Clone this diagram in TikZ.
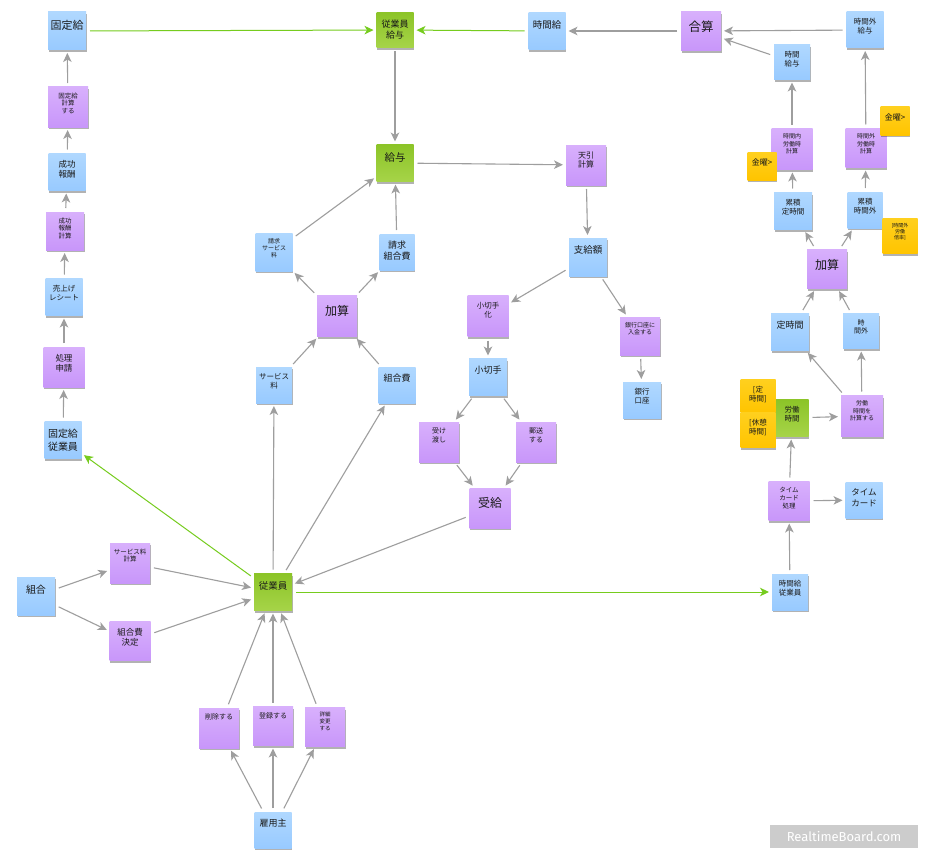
\documentclass[tikz,border=0pt]{standalone}
\usepackage{fontspec}
\setmainfont{Noto Sans CJK JP}
\newfontfamily\wmfont{Fira Sans}
\usetikzlibrary{arrows.meta,shadows}

\definecolor{blueT}{RGB}{176,216,255}
\definecolor{blueB}{RGB}{152,202,255}
\definecolor{purpT}{RGB}{216,176,252}
\definecolor{purpB}{RGB}{200,150,250}
\definecolor{greenT}{RGB}{140,196,40}
\definecolor{greenB}{RGB}{166,212,72}
\definecolor{yelT}{RGB}{255,208,30}
\definecolor{yelB}{RGB}{255,196,0}
\definecolor{arrgray}{RGB}{158,158,158}
\definecolor{arrgreen}{RGB}{118,204,30}
\definecolor{wmgray}{RGB}{204,204,204}

% sticky note content: fixed-size box, text set near the top
\newcommand\nt[3]{\parbox[c][#2pt][t]{#1pt}{\centering\vspace*{\fzv pt}#3\par}}
\def\fzv{5}

\tikzset{
  note/.style={inner sep=0pt, outer sep=0pt, text=black!90,
    drop shadow={shadow xshift=0.6pt, shadow yshift=-2.4pt, opacity=0.3, fill=black}},
  bnote/.style={note, top color=blueT, bottom color=blueB},
  pnote/.style={note, top color=purpT, bottom color=purpB},
  gnote/.style={note, top color=greenT, bottom color=greenB},
  ynote/.style={note, top color=yelT, bottom color=yelB},
  fz/.code={\pgfmathsetmacro\fzb{#1*1.22}%
    \pgfmathsetmacro\fzv{1+0.7*#1}%
    \edef\fzset{\noexpand\tikzset{font=\noexpand\fontsize{#1}{\fzb}\noexpand\selectfont}}\fzset},
  arr/.style={draw=arrgray, line width=1.1pt,
    -{Stealth[length=9pt,width=8.5pt,inset=2.5pt]}, shorten >=3pt, shorten <=4pt},
  garr/.style={arr, draw=arrgreen, line width=1pt}
}

\begin{document}
\begin{tikzpicture}[x=1pt,y=-1pt]
\fill[white] (0,0) rectangle (930,859);
\useasboundingbox (0,0) rectangle (930,859);

% ---------- fixed salary column ----------
\node[bnote,fz=11]  (kyu)      at (67,31)   {\nt{38}{38}{固定給}};
\node[pnote,fz=6.5] (kyuCalc)  at (68,107)  {\nt{40}{40}{固定給\\計算\\する}};
\node[bnote,fz=8.5] (seiko)    at (67,172)  {\nt{37}{37}{成功\\報酬}};
\node[pnote,fz=6.5] (seikoCalc) at (65,231) {\nt{38}{38}{成功\\報酬\\計算}};
\node[bnote,fz=7.5] (receipt)  at (64,297)  {\nt{37}{37}{売上げ\\レシート}};
\node[pnote,fz=8.5] (shinsei)  at (64,367)  {\nt{41}{40}{処理\\申請}};
\node[bnote,fz=10]  (kyuEmp)   at (63,440)  {\nt{37}{37}{固定給\\従業員}};

% ---------- payroll center ----------
\node[gnote,fz=9]    (empPay)  at (395,30)  {\nt{37}{35}{従業員\\給与}};
\node[bnote,fz=9.5]  (hourly)  at (547,31)  {\nt{37}{37}{時間給}};
\node[gnote,fz=10.5] (pay)     at (395,163) {\nt{37}{37}{給与}};
\node[pnote,fz=8]    (deduct)  at (586,165) {\nt{40}{40}{天引\\計算}};

\node[bnote,fz=6]   (billSvc)   at (274,252) {\nt{37}{38}{請求\\サービス\\料}};
\node[bnote,fz=9]   (billUnion) at (397,252) {\nt{35}{36}{請求\\組合費}};
\node[pnote,fz=12]  (addC)      at (337,316) {\nt{40}{41}{加算}};
\node[bnote,fz=7.5] (svc)       at (274,385) {\nt{36}{36}{サービス\\料}};
\node[bnote,fz=9]   (union)     at (397,385) {\nt{37}{36}{組合費}};

\node[bnote,fz=9.5] (payout)  at (588,257) {\nt{38}{38}{支給額}};
\node[pnote,fz=7.5] (chkize)  at (488,316) {\nt{41}{41}{小切手\\化}};
\node[pnote,fz=6]   (bankDep) at (640,336) {\nt{40}{38}{銀行口座に\\入金する}};
\node[bnote,fz=9]   (chk)     at (488,377) {\nt{38}{37}{小切手}};
\node[bnote,fz=7.5] (bank)    at (642,400) {\nt{38}{36}{銀行\\口座}};
\node[pnote,fz=7]   (hand)    at (439,442) {\nt{40}{40}{受け\\渡し}};
\node[pnote,fz=7]   (mail)    at (536,442) {\nt{40}{40}{郵送\\する}};
\node[pnote,fz=12]  (recv)    at (490,508) {\nt{41}{40}{受給}};

% ---------- employee / union ----------
\node[bnote,fz=10]  (unionOrg) at (36,596)  {\nt{38}{38}{組合}};
\node[pnote,fz=6.5] (svcCalc)  at (130,563) {\nt{40}{40}{サービス料\\計算}};
\node[pnote,fz=8.5] (unionFee) at (130,641) {\nt{41}{39}{組合費\\決定}};
\node[gnote,fz=9.5] (emp)      at (273,592) {\nt{38}{37}{従業員}};
\node[pnote,fz=7]   (del)      at (219,728) {\nt{40}{40}{削除する}};
\node[pnote,fz=7]   (reg)      at (273,726) {\nt{40}{39}{登録する}};
\node[pnote,fz=5.5] (mod)      at (325,727) {\nt{40}{39}{詳細\\変更\\する}};
\node[bnote,fz=9]   (employer) at (273,830) {\nt{37}{36}{雇用主}};

% ---------- hourly salary ----------
\node[pnote,fz=12.5] (total)   at (701,31)  {\nt{40}{39}{合算}};
\node[bnote,fz=7.5]  (otPay)   at (865,30)  {\nt{37}{36}{時間外\\給与}};
\node[bnote,fz=7.5]  (hrPay)   at (792,62)  {\nt{36}{35}{時間\\給与}};
\node[pnote,fz=6]    (inCalc)  at (792,149) {\nt{41}{41}{時間内\\労働時\\計算}};
\node[pnote,fz=6]    (otCalc)  at (866,148) {\nt{41}{39}{時間外\\労働時\\計算}};
\node[bnote,fz=7.5]  (accReg)  at (793,211) {\nt{38}{37}{累積\\定時間}};
\node[bnote,fz=7.5]  (accOt)   at (865,210) {\nt{35}{36}{累積\\時間外}};
\node[pnote,fz=12]   (addR)    at (827,269) {\nt{40}{39}{加算}};
\node[bnote,fz=9]    (regT)    at (790,332) {\nt{38}{37}{定時間}};
\node[bnote,fz=7]    (otT)     at (861,331) {\nt{36}{35}{時\\間外}};
\node[gnote,fz=7.5]  (work)    at (792,418) {\nt{33}{37}{労働\\時間}};
\node[pnote,fz=6]    (workCalc) at (862,416) {\nt{42}{41}{労働\\時間を\\計算する}};
\node[pnote,fz=6.5]  (tcProc)  at (789,501) {\nt{41}{39}{タイム\\カード\\処理}};
\node[bnote,fz=8.5]  (tc)      at (864,500) {\nt{37}{36}{タイム\\カード}};
\node[bnote,fz=7.5]  (hrEmp)   at (790,592) {\nt{36}{36}{時間給\\従業員}};

% yellow tags laid over the notes
\node[ynote,fz=8]   (fri1)   at (762,166) {\nt{29}{28}{金曜>}};
\node[ynote,fz=8]   (fri2)   at (895,121) {\nt{29}{28}{金曜>}};
\node[ynote,fz=5]   (otRate) at (900,236) {\nt{35}{35}{[時間外\\労働\\倍率]}};
\node[ynote,fz=7.5] (yReg)   at (758,396) {\nt{35}{33}{[定\\時間]}};
\node[ynote,fz=7.5] (yRest)  at (758,430) {\nt{35}{35}{[休憩\\時間]}};

% ---------- connectors ----------
\draw[arr] (kyuEmp) -- (shinsei);
\draw[arr] (shinsei) -- (receipt);
\draw[arr] (receipt) -- (seikoCalc);
\draw[arr] (seikoCalc) -- (seiko);
\draw[arr] (seiko) -- (kyuCalc);
\draw[arr] (kyuCalc) -- (kyu);

\draw[garr] (kyu) -- (empPay);
\draw[garr] (hourly) -- (empPay);
\draw[garr] (emp) -- (kyuEmp);
\draw[garr] (emp) -- (hrEmp);

\draw[arr] (total) -- (hourly);
\draw[arr] (empPay) -- (pay);
\draw[arr] (pay) -- (deduct);
\draw[arr] (deduct) -- (payout);
\draw[arr] (payout) -- (chkize);
\draw[arr] (payout) -- (bankDep);
\draw[arr] (chkize) -- (chk);
\draw[arr] (bankDep) -- (bank);
\draw[arr] (chk) -- (hand);
\draw[arr] (chk) -- (mail);
\draw[arr] (hand) -- (recv);
\draw[arr] (mail) -- (recv);
\draw[arr] (recv) -- (emp);

\draw[arr] (billSvc) -- (pay);
\draw[arr] (billUnion) -- (pay);
\draw[arr] (addC) -- (billSvc);
\draw[arr] (addC) -- (billUnion);
\draw[arr] (svc) -- (addC);
\draw[arr] (union) -- (addC);
\draw[arr] (emp) -- (svc);
\draw[arr] (emp) -- (union);

\draw[arr] (unionOrg) -- (svcCalc);
\draw[arr] (unionOrg) -- (unionFee);
\draw[arr] (svcCalc) -- (emp);
\draw[arr] (unionFee) -- (emp);
\draw[arr] (employer) -- (del);
\draw[arr] (employer) -- (reg);
\draw[arr] (employer) -- (mod);
\draw[arr] (del) -- (emp);
\draw[arr] (reg) -- (emp);
\draw[arr] (mod) -- (emp);

\draw[arr] (otPay) -- (total);
\draw[arr] (hrPay) -- (total);
\draw[arr] (inCalc) -- (hrPay);
\draw[arr] (otCalc) -- (otPay);
\draw[arr] (accReg) -- (inCalc);
\draw[arr] (accOt) -- (otCalc);
\draw[arr] (addR) -- (accReg);
\draw[arr] (addR) -- (accOt);
\draw[arr] (regT) -- (addR);
\draw[arr] (otT) -- (addR);
\draw[arr] (workCalc) -- (regT);
\draw[arr] (workCalc) -- (otT);
\draw[arr] (work) -- (workCalc);
\draw[arr] (tcProc) -- (work);
\draw[arr] (tcProc) -- (tc);
\draw[arr] (hrEmp) -- (tcProc);

% ---------- badge ----------
\node[fill=wmgray, text=white, inner sep=0pt, minimum width=148pt, minimum height=23pt,
      font=\wmfont\fontsize{13}{13}\selectfont] (badge) at (844,836.5) {RealtimeBoard.com};
\end{tikzpicture}
\end{document}
